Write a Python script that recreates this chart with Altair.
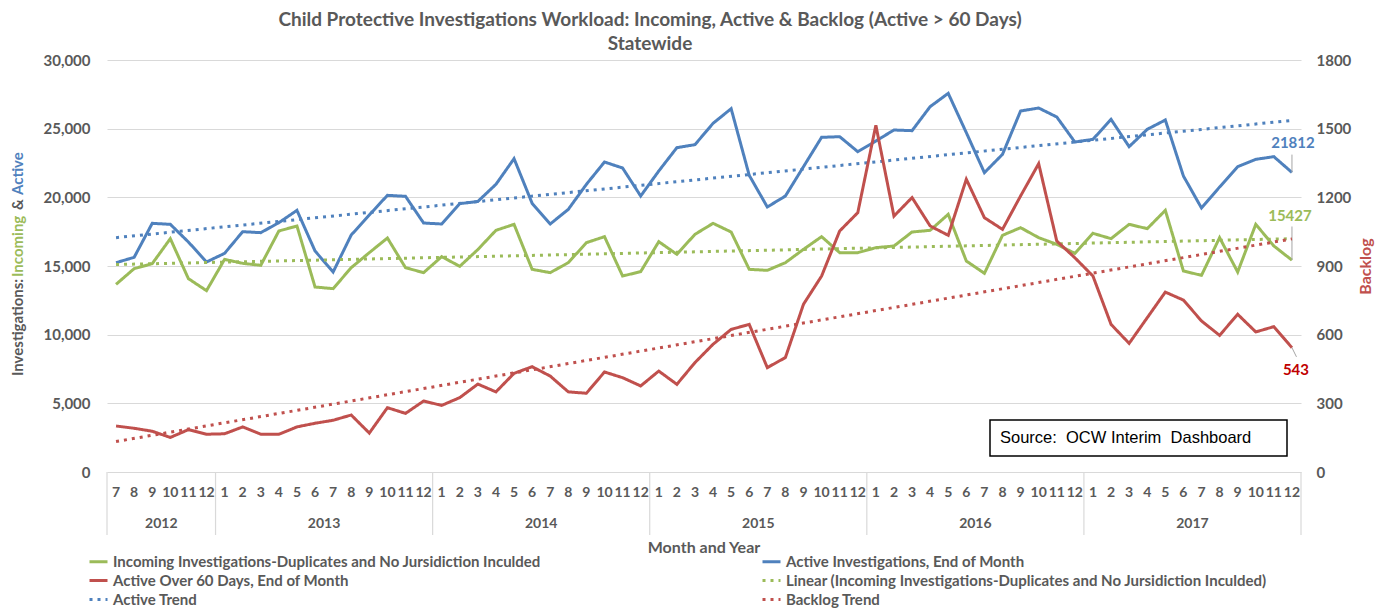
import altair as alt
import pandas as pd

# ---------------- data ----------------
months = [7, 8, 9, 10, 11, 12] + list(range(1, 13)) * 5
years = ["2012", "2013", "2014", "2015", "2016", "2017"]

incoming = [13665, 14806, 15170, 16990, 14078, 13204,
            15485, 15194, 15049, 17549, 17913, 13471, 13350, 14879, 15971, 17039, 14879, 14515,
            15680, 14976, 16200, 17597, 18034, 14757, 14515, 15243, 16699, 17136, 14272, 14588,
            16772, 15850, 17306, 18107, 17476, 14757, 14684, 15243, 16214, 17136, 15971, 15971,
            16335, 16456, 17476, 17597, 18762, 15364, 14466, 17233, 17791, 17063, 16578, 15922,
            17379, 16990, 18034, 17718, 19053, 14636, 14320, 17063, 14563, 18034, 16456, 15427]

active = [15243, 15631, 18107, 18034, 16748, 15291,
          15922, 17500, 17427, 18155, 19053, 16092, 14563, 17257, 18714, 20146, 20073, 18131,
          18058, 19539, 19700, 20947, 22816, 19563, 18058, 19126, 20947, 22573, 22136, 20097,
          21917, 23617, 23835, 25388, 26456, 21602, 19296, 20097, 22233, 24369, 24417, 23325,
          24100, 24903, 24854, 26602, 27573, 24709, 21796, 23131, 26286, 26505, 25850, 24029,
          24223, 25680, 23689, 24951, 25631, 21553, 19223, 20752, 22233, 22767, 22961, 21812]

backlog = [201, 191, 178, 151, 185, 165,
           167, 197, 165, 165, 197, 213, 226, 249, 170, 281, 256, 310,
           291, 325, 384, 350, 431, 460, 419, 350, 344, 437, 412, 376,
           441, 383, 478, 558, 623, 645, 456, 500, 733, 856, 1053, 1133,
           1515, 1118, 1199, 1075, 1034, 1279, 1111, 1060, 1206, 1347, 1009, 936,
           856, 645, 562, 674, 786, 751, 660, 597, 689, 612, 635, 543]

INC = "Incoming Investigations-Duplicates and No Jursidiction Inculded"
ACT = "Active Investigations, End of Month"
BKL = "Active Over 60 Days, End of Month"
LIN = "Linear (Incoming Investigations-Duplicates and No Jursidiction Inculded)"
ATR = "Active Trend"
BTR = "Backlog Trend"

GREEN, BLUE, RED = "#9BBB59", "#4F81BD", "#C0504D"
GREY = "#595959"
FONT = "Lato"

domain = [INC, ACT, BKL, LIN, ATR, BTR]
colors = [GREEN, BLUE, RED, GREEN, BLUE, RED]
dashes = [[1, 0], [1, 0], [1, 0], [3, 5], [3, 5], [3, 5]]

n = len(months)
idx = list(range(n))
left_df = pd.DataFrame({"idx": idx * 2, "value": incoming + active,
                        "series": [INC] * n + [ACT] * n})
right_df = pd.DataFrame({"idx": idx, "value": backlog, "series": [BKL] * n})
month_df = pd.DataFrame({"idx": idx, "month": months})
starts = [0] + [i for i in range(1, n) if months[i] == 1]
ends = starts[1:] + [n]
year_df = pd.DataFrame({"year": years, "center": [(s + e - 1) / 2 for s, e in zip(starts, ends)]})
sep_df = pd.DataFrame({"pos": [s - 0.5 for s in starts] + [n - 0.5]})
one = pd.DataFrame({"a": [0]})

W, H = 1194, 412

xscale = alt.Scale(domain=[-0.5, n - 0.5], nice=False, zero=False)
x_enc = alt.X("idx:Q", scale=xscale, axis=None)
color_enc = alt.Color("series:N", scale=alt.Scale(domain=domain, range=colors), title=None)
dash_enc = alt.StrokeDash("series:N", scale=alt.Scale(domain=domain, range=dashes), title=None)

left_scale = alt.Scale(domain=[0, 30000], nice=False, zero=True)
right_scale = alt.Scale(domain=[0, 1800], nice=False, zero=True)

left_axis = alt.Axis(values=list(range(0, 30001, 5000)), labelExpr="format(datum.value, ',')",
                     labelFont=FONT, labelFontSize=15, labelFontWeight="bold", labelColor=GREY,
                     labelPadding=17, ticks=False, domain=False, title=None,
                     gridColor="#d9d9d9", gridWidth=1.2)
right_axis = alt.Axis(orient="right", values=list(range(0, 1801, 300)),
                      labelExpr="format(datum.value, 'd')",
                      labelFont=FONT, labelFontSize=15, labelFontWeight="bold",
                      labelColor=GREY, labelPadding=15, ticks=False, domain=False,
                      grid=False, title="Backlog", titleColor=RED, titleFont=FONT,
                      titleFontSize=16, titleFontWeight="bold", titleAngle=270,
                      titlePadding=23)
yL = alt.Y("value:Q", scale=left_scale, axis=left_axis)
yR = alt.Y("value:Q", scale=right_scale, axis=right_axis)

trend_expr = ("datum.series == '%s' ? '%s' : (datum.series == '%s' ? '%s' : '%s')"
              % (INC, LIN, ACT, ATR, BTR))

# ----- left layers -----
left_lines = alt.Chart(left_df).mark_line(strokeWidth=3).encode(
    x=x_enc, y=yL, color=color_enc, strokeDash=dash_enc)

left_trend = alt.Chart(left_df).transform_regression(
    "idx", "value", groupby=["series"], extent=[0, n - 1]
).transform_calculate(series=trend_expr).mark_line(strokeWidth=3).encode(
    x=x_enc, y=yL, color=color_enc, strokeDash=dash_enc)

txt = dict(font=FONT, fontWeight="bold", baseline="middle")

month_text = alt.Chart(month_df).mark_text(fontSize=14, color=GREY, **txt).encode(
    x=x_enc, y=alt.value(H + 21), text="month:N")
year_text = alt.Chart(year_df).mark_text(fontSize=14, color=GREY, **txt).encode(
    x=alt.X("center:Q", scale=xscale, axis=None), y=alt.value(H + 52), text="year:N")
seps = alt.Chart(sep_df).mark_rule(color="#d9d9d9", strokeWidth=1.2).encode(
    x=alt.X("pos:Q", scale=xscale, axis=None), y=alt.value(H), y2=alt.value(H + 63))
x_title = alt.Chart(one).mark_text(fontSize=16, color=GREY, **txt).encode(
    x=alt.value(W / 2), y=alt.value(H + 76), text=alt.value("Month and Year"))


def ytitle(t, ypos, col):
    return alt.Chart(one).mark_text(fontSize=15, color=col, angle=270, align="left", **txt).encode(
        x=alt.value(-89), y=alt.value(ypos), text=alt.value(t))


ytitles = [ytitle("Investigations:", 316, GREY), ytitle("Incoming", 217, GREEN),
           ytitle("&", 150, GREY), ytitle("Active", 135, BLUE)]

src_box = alt.Chart(one).mark_rect(fill="white", stroke="black", strokeWidth=1.5).encode(
    x=alt.value(883), x2=alt.value(1180), y=alt.value(360), y2=alt.value(396))
src_text = alt.Chart(one).mark_text(font="Liberation Sans", fontSize=16.5, color="black",
                                    align="left", baseline="middle").encode(
    x=alt.value(893), y=alt.value(378), text=alt.value("Source:\u00a0 OCW Interim\u00a0 Dashboard"))

last_act = alt.Chart(left_df).transform_filter(
    f"datum.idx == {n - 1} && datum.series == '{ACT}'")
last_inc = alt.Chart(left_df).transform_filter(
    f"datum.idx == {n - 1} && datum.series == '{INC}'")
lead = dict(color="#a6a6a6", strokeWidth=1)
yL2 = alt.Y2("top:Q")
lead_act = last_act.transform_calculate(top="datum.value + 1300").mark_rule(**lead).encode(
    x=x_enc, y=alt.Y("value:Q", scale=left_scale, axis=left_axis), y2=yL2)
lead_inc = last_inc.transform_calculate(top="datum.value + 2450").mark_rule(**lead).encode(
    x=x_enc, y=alt.Y("value:Q", scale=left_scale, axis=left_axis), y2=yL2)
lab_act = last_act.mark_text(fontSize=15, color=BLUE, dy=-29, dx=1, **txt).encode(
    x=x_enc, y=yL, text="value:Q")
lab_inc = last_inc.mark_text(fontSize=15, color=GREEN, dy=-44, dx=-2, **txt).encode(
    x=x_enc, y=yL, text="value:Q")

left_layer = alt.layer(left_lines, left_trend, month_text, year_text, seps, x_title,
                       *ytitles, src_box, src_text, lead_act, lead_inc, lab_act, lab_inc)

# ----- right layers -----
right_line = alt.Chart(right_df).mark_line(strokeWidth=3).encode(
    x=x_enc, y=yR, color=color_enc, strokeDash=dash_enc)
right_trend = alt.Chart(right_df).transform_regression(
    "idx", "value", groupby=["series"], extent=[0, n - 1]
).transform_calculate(series=trend_expr).mark_line(strokeWidth=3).encode(
    x=x_enc, y=yR, color=color_enc, strokeDash=dash_enc)
last_bkl = alt.Chart(right_df).transform_filter(f"datum.idx == {n - 1}")
lead_bkl = last_bkl.transform_calculate(
    x2v=f"datum.idx + 0.25", bot="datum.value - 40").mark_rule(**lead).encode(
    x=x_enc, x2=alt.X2("x2v:Q"), y=yR, y2=alt.Y2("bot:Q"))
lab_bkl = last_bkl.mark_text(fontSize=15, color="#C00000", dy=22, dx=4, **txt).encode(
    x=x_enc, y=yR, text="value:Q")

right_layer = alt.layer(right_line, right_trend, lead_bkl, lab_bkl)

chart = alt.layer(left_layer, right_layer).resolve_scale(y="independent").properties(
    width=W, height=H,
    title=alt.TitleParams(
        text=["Child Protective Investigations Workload: Incoming, Active & Backlog (Active > 60 Days)",
              "Statewide"],
        anchor="middle", dx=-54, font=FONT, fontSize=19, fontWeight="bold", color=GREY,
        lineHeight=24, offset=-1),
    autosize=alt.AutoSizeParams(type="none"),
    padding={"left": 99, "top": 52, "right": 76, "bottom": 136},
).configure_view(stroke=None).configure_legend(
    orient="none", legendX=-19, legendY=491, columns=2, direction="horizontal",
    columnPadding=215, rowPadding=-4,
    symbolType="stroke", symbolSize=324, symbolStrokeWidth=3, labelFont=FONT,
    labelFontSize=15, labelFontWeight="bold", labelColor=GREY, labelLimit=800,
    labelOffset=4, title=None)

chart.save("out.html", embed_options={"renderer": "svg", "actions": False})
